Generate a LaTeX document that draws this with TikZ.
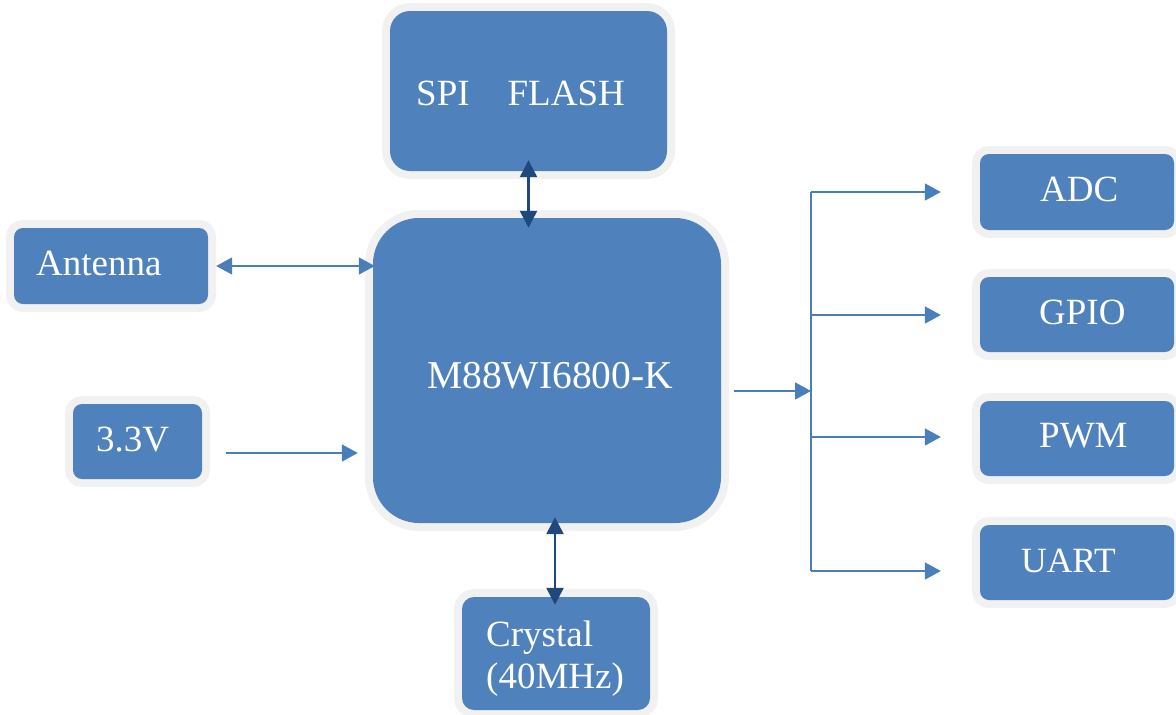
\documentclass[tikz,border=0pt]{standalone}
\usepackage{fontspec}
\setmainfont{Liberation Serif}
\usetikzlibrary{arrows.meta}
\definecolor{boxblue}{HTML}{4F81BD}
\definecolor{edgegrey}{HTML}{F1F1F1}
\definecolor{linkblue}{HTML}{4A7EBB}
\definecolor{navy}{HTML}{1F497D}
\tikzset{
  blk/.style={fill=boxblue, inner sep=0pt, rounded corners=#1,
    preaction={draw=edgegrey, line width=16pt, rounded corners=#1}},
  blk/.default=10pt,
  lbl/.style={text=white, font=\fontsize{37pt}{44pt}\selectfont, inner sep=0pt, anchor=base west},
  hlink/.style={draw=linkblue, line width=1.7pt, -{Triangle[length=16pt,width=17pt]}},
  hlinkd/.style={hlink, {Triangle[length=16pt,width=17pt]}-{Triangle[length=16pt,width=17pt]}},
  vlink/.style={draw=navy, line width=2.5pt, {Triangle[length=17pt,width=17pt]}-{Triangle[length=17pt,width=17pt]}},
  bus/.style={draw=linkblue, line width=1.7pt}
}
\begin{document}
\begin{tikzpicture}[x=1pt,y=-1pt]
\useasboundingbox (0,0) rectangle (1176,715);
% boxes
\node[blk=20pt, minimum width=277pt, minimum height=160pt] (spi) at (528.5,91) {};
\node[blk=46pt, minimum width=348pt, minimum height=305pt] (chip) at (547,370.5) {};
\node[blk=9pt, minimum width=194pt, minimum height=76pt] (ant) at (111,266) {};
\node[blk=9pt, minimum width=129pt, minimum height=75pt] (v33) at (137.5,441.5) {};
\node[blk=12pt, minimum width=188pt, minimum height=113pt] (crys) at (556,653.5) {};
\node[blk=9pt, minimum width=194pt, minimum height=76pt] (adc) at (1077,192) {};
\node[blk=9pt, minimum width=194pt, minimum height=75pt] (gpio) at (1077,314.5) {};
\node[blk=9pt, minimum width=194pt, minimum height=75pt] (pwm) at (1077,438.5) {};
\node[blk=9pt, minimum width=194pt, minimum height=75pt] (uart) at (1077,562.5) {};
% labels
\node[lbl] (spit) at (416,105) {SPI\hspace{38pt}FLASH};
\node[lbl, font=\fontsize{39.5pt}{46pt}\selectfont] (chipt) at (427,388) {M88WI6800-K};
\node[lbl] (antt) at (36,275) {Antenna};
\node[lbl] (v33t) at (96,451) {3.3V};
\node[lbl] (crys1) at (486,646) {Crystal};
\node[lbl] (crys2) at (486,688) {(40MHz)};
\node[lbl] (adct) at (1040,201) {ADC};
\node[lbl] (gpiot) at (1039,324) {GPIO};
\node[lbl] (pwmt) at (1039,447) {PWM};
\node[lbl, font=\fontsize{35.5pt}{42pt}\selectfont] (uartt) at (1021,572) {UART};
% connectors
\draw[vlink] ([yshift=11pt]spi.south) -- ([yshift=-10pt]spi.south |- chip.north);
\draw[vlink] ([xshift=-1pt,yshift=6pt]crys.north |- chip.south) -- ([xshift=-1pt,yshift=-8pt]crys.north);
\draw[hlinkd] ([xshift=8pt]ant.east) -- ([xshift=2pt]ant.east -| chip.west);
\draw[hlink] ([xshift=24pt,yshift=-11.5pt]v33.east) -- ([xshift=-15pt,yshift=-11.5pt]v33.east -| chip.west);
\coordinate (bustop) at (811,192);
\coordinate (busbot) at (811,571);
\draw[bus] (bustop) -- (busbot);
\draw[hlink] ([xshift=13pt,yshift=-20.5pt]chip.east) -- ([yshift=-20.5pt]chip.east -| bustop);
\draw[hlink] (bustop) -- ([xshift=-39pt]adc.west);
\draw[hlink] ([yshift=-0.5pt]gpio.west -| bustop) -- ([xshift=-39pt,yshift=-0.5pt]gpio.west);
\draw[hlink] ([yshift=1.5pt]pwm.west -| bustop) -- ([xshift=-39pt,yshift=1.5pt]pwm.west);
\draw[hlink] (busbot) -- ([xshift=-39pt]busbot -| uart.west);
\end{tikzpicture}
\end{document}
